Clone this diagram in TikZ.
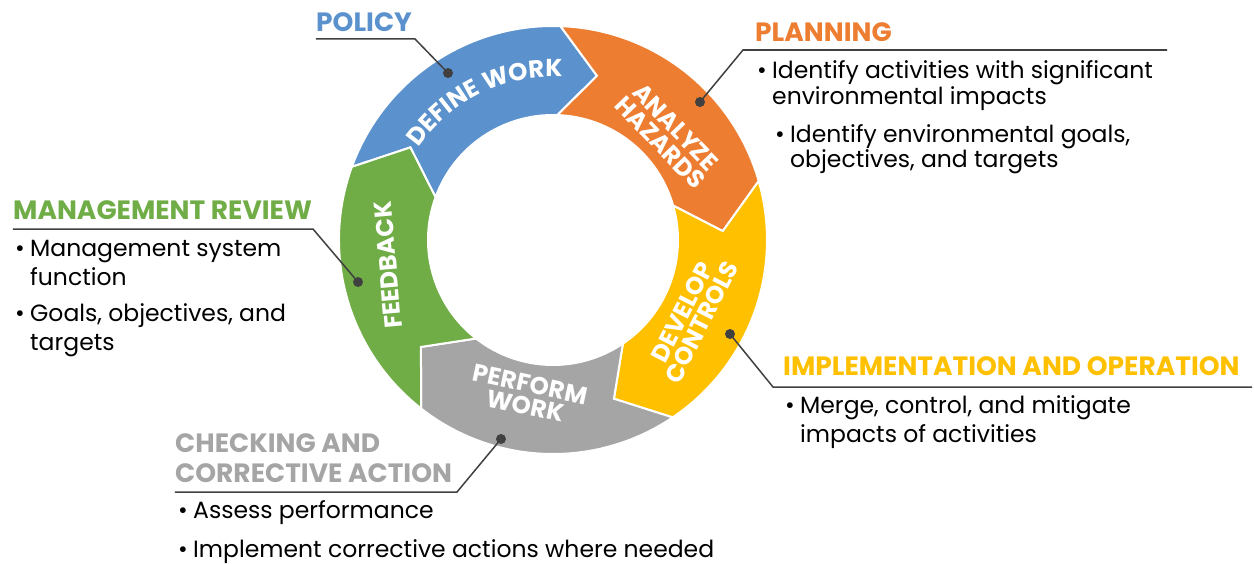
\documentclass[tikz,border=0pt]{standalone}
\usepackage{fontspec}
\setmainfont{Poppins}
\usetikzlibrary{decorations.text}

\definecolor{cblue}{HTML}{5B92CD}
\definecolor{corange}{HTML}{ED7D31}
\definecolor{cgold}{HTML}{FFC000}
\definecolor{cgray}{HTML}{A5A5A5}
\definecolor{cgreen}{HTML}{70AD47}
\definecolor{cline}{HTML}{404040}

\newcommand{\headfont}{\fontsize{26.5}{28}\selectfont\bfseries}
\newcommand{\ringfont}{\fontsize{24.5}{22}\selectfont\bfseries}
\newcommand{\bodyfont}{\fontsize{23.5}{29}\selectfont}
\newcommand{\bul}{\makebox[15pt][l]{\textbullet}}
\newcommand{\ind}{\hspace*{15pt}}
% one arrow piece of the ring: colour, tail angle, head angle
\newcommand{\ringseg}[3]{%
  \fill[#1, draw=white, line width=2pt] (#2:214) arc[start angle=#2, end angle=#3, radius=214]
    -- (#3-13:170) -- (#3:125) arc[start angle=#3, end angle=#2, radius=125] -- (#2-13:170) -- cycle;}

\begin{document}
\begin{tikzpicture}[x=1pt,y=1pt,
  head/.style={anchor=base west, inner sep=0pt, font=\headfont},
  body/.style={anchor=base west, inner sep=0pt, font=\bodyfont, align=left},
  ringtxt/.style={text=white, font=\ringfont, align=center, inner sep=0pt},
  leader/.style={draw=cline, line width=1.5pt},
  pin/.style={fill=cline}]
\useasboundingbox (-553,-323) rectangle (701,240);

% ring
\ringseg{cblue}{160}{88}
\ringseg{corange}{88}{16}
\ringseg{cgold}{16}{-56}
\ringseg{cgray}{-56}{-128}
\ringseg{cgreen}{232}{160}

\path[decorate, decoration={text along path, text align=center,
  text={|\color{white}\ringfont|DEFINE WORK}}]
  (170:163) arc[start angle=170, end angle=62, radius=163];
\node[ringtxt, rotate=-46] (hazards) at (115,105) {ANALYZE\\HAZARDS};
\node[ringtxt, rotate=63] (controls) at (139,-77) {DEVELOP\\CONTROLS};
\node[ringtxt, rotate=-12] (perform) at (-25,-155) {PERFORM\\WORK};
\node[ringtxt, rotate=95] (feedback) at (-165,-25) {FEEDBACK};

% headings
\node[head, text=cblue] (policy) at (-237,208) {POLICY};
\node[head, text=corange] (planning) at (202,198) {PLANNING};
\node[head, text=cgreen] (mreview) at (-540,21) {MANAGEMENT REVIEW};
\node[head, text=cgold] (implop) at (230,-135) {IMPLEMENTATION AND OPERATION};
\node[head, text=cgray] (checking) at (-378,-212) {CHECKING AND};
\node[head, text=cgray] (corrective) at (-378,-242) {CORRECTIVE ACTION};

% leaders
\coordinate (policyA) at (-237,201);  \coordinate (policyB) at (-138,201);  \coordinate (policyDot) at (-105,167);
\coordinate (planA) at (614,190);     \coordinate (planB) at (190,190);     \coordinate (planDot) at (147,138);
\coordinate (reviewA) at (-540,11);   \coordinate (reviewB) at (-240,11);   \coordinate (reviewDot) at (-195,-42);
\coordinate (implA) at (699,-147);    \coordinate (implB) at (220,-147);    \coordinate (implDot) at (177,-94);
\coordinate (checkA) at (-378,-252);  \coordinate (checkB) at (-96,-252);   \coordinate (checkDot) at (-52,-199);
\foreach \p in {policy,plan,review,impl,check}{
  \draw[leader] (\p A) -- (\p B) -- (\p Dot);
  \fill[pin] (\p Dot) circle (5);
}

% bullets (placed at the baseline of their last line)
\node[body, font=\fontsize{23.5}{26}\selectfont] (plan1) at (204,136) {\bul Identify activities with significant\\\ind environmental impacts};
\node[body, font=\fontsize{23.5}{25}\selectfont] (plan2) at (222,73) {\bul Identify environmental goals,\\\ind objectives, and targets};
\node[body] (review1) at (-538,-45) {\bul Management system\\\ind function};
\node[body] (review2) at (-538,-110) {\bul Goals, objectives, and\\\ind targets};
\node[body] (impl1) at (232,-202) {\bul Merge, control, and mitigate\\\ind impacts of activities};
\node[body] (check1) at (-375,-278) {\bul Assess performance};
\node[body] (check2) at (-375,-317) {\bul Implement corrective actions where needed};
\end{tikzpicture}
\end{document}
